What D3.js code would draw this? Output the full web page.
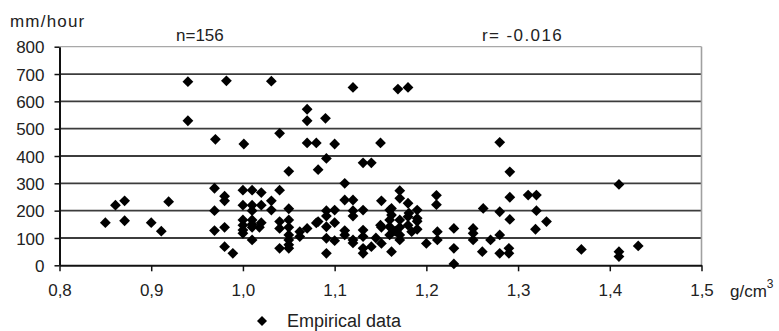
<!DOCTYPE html>
<html>
<head>
<meta charset="utf-8">
<script src="https://cdn.jsdelivr.net/npm/d3@7/dist/d3.min.js"></script>
<style>
  html, body { margin: 0; padding: 0; background: #fff; }
  svg { display: block; }
  text { font-family: "Liberation Sans", Arial, sans-serif; fill: #222; }
</style>
</head>
<body>
<svg id="chart" width="779" height="331"></svg>
<script>
// Density (g/cm3) against infiltration rate (mm/hour), one entry per sample
const density = [
  0.850, 0.861, 0.871, 0.871, 0.900, 0.911, 0.919,
  0.940, 0.940, 0.970, 0.969, 0.980, 0.980, 0.969, 0.969, 0.980, 0.980, 0.989, 0.982,
  1.001, 1.000, 1.010, 1.020, 1.000, 1.010, 1.020, 1.010, 1.000, 1.000, 1.000, 1.000,
  1.010, 1.010, 1.018, 1.020, 1.010, 1.010,
  1.031, 1.040, 1.031, 1.031, 1.040, 1.040, 1.040, 1.040, 1.050, 1.050, 1.050, 1.050,
  1.050, 1.050, 1.050, 1.050,
  1.062, 1.062, 1.070, 1.070, 1.070, 1.070, 1.080, 1.082, 1.082, 1.090, 1.091, 1.091,
  1.091, 1.091, 1.091, 1.091, 1.080,
  1.100, 1.100, 1.100, 1.100, 1.111, 1.111, 1.120, 1.111, 1.111, 1.120, 1.120, 1.120,
  1.120, 1.120,
  1.131, 1.140, 1.131, 1.131, 1.131, 1.131, 1.131, 1.140, 1.150, 1.151, 1.151, 1.151,
  1.145,
  1.160, 1.160, 1.160, 1.160, 1.162, 1.162, 1.169, 1.180, 1.171, 1.171, 1.171, 1.171,
  1.171, 1.180, 1.180, 1.180, 1.190, 1.190, 1.190, 1.184, 1.150, 1.162, 1.171, 1.181,
  1.190, 1.166,
  1.200, 1.211, 1.211, 1.212, 1.212, 1.230, 1.230, 1.230,
  1.251, 1.251, 1.251, 1.261, 1.262, 1.270, 1.280, 1.280, 1.280, 1.280, 1.290, 1.290,
  1.291, 1.291, 1.291,
  1.311, 1.320, 1.320, 1.319, 1.331, 1.369, 1.410, 1.410, 1.410, 1.431
];
const rate = [
  156, 220, 236, 163, 156, 125, 233,
  672, 529, 461, 282, 253, 236, 200, 127, 139, 68, 44, 675,
  444, 275, 275, 266, 220, 220, 220, 200, 166, 147, 129, 117,
  166, 139, 139, 156, 93, 150,
  674, 483, 236, 202, 275, 160, 135, 62, 344, 207, 166, 139,
  111, 93, 62, 75,
  123, 105, 135, 571, 529, 448, 448, 350, 160, 538, 391, 200,
  180, 141, 99, 44, 155,
  444, 202, 156, 90, 300, 239, 239, 127, 111, 651, 200, 180,
  93, 82,
  375, 375, 202, 129, 105, 62, 44, 68, 448, 236, 139, 80,
  100,
  202, 166, 141, 111, 50, 184, 645, 651, 273, 245, 166, 139,
  111, 227, 178, 147, 202, 172, 132, 123, 147, 208, 93, 191,
  161, 125,
  80, 256, 222, 123, 93, 135, 62, 5,
  135, 117, 93, 50, 208, 93, 450, 196, 111, 44, 62, 44,
  342, 249, 168,
  257, 257, 200, 132, 160, 58, 296, 50, 32, 71
];
const xTicks = [0.8, 0.9, 1.0, 1.1, 1.2, 1.3, 1.4, 1.5];
const yTicks = [0, 100, 200, 300, 400, 500, 600, 700, 800];
const sampleCount = "n=156";
const correlation = "r= -0.016";
const seriesName = "Empirical data";

(function draw() {
  const points = density.map((d, i) => ({ x: d, y: rate[i] }));

  const svg = d3.select("#chart");
  const plotLeft = 59.5, plotRight = 701.5, plotTop = 46.7, plotBottom = 265.3;
  const x = d3.scaleLinear().domain([0.8, 1.5]).range([plotLeft, plotRight]);
  const y = d3.scaleLinear().domain([0, 800]).range([plotBottom, plotTop]);

  const diamond = s => `M0,${-s}L${s},0L0,${s}L${-s},0Z`;
  const font = "Liberation Sans, Arial, sans-serif";

  // horizontal gridlines (top edge of the plot area is lighter)
  svg.append("g").selectAll("line")
    .data(yTicks.filter(v => v > 0))
    .join("line")
    .attr("x1", plotLeft).attr("x2", plotRight)
    .attr("y1", d => y(d)).attr("y2", d => y(d))
    .attr("stroke", d => d === 800 ? "#a8a8a8" : "#3c3c3c")
    .attr("stroke-width", d => d === 800 ? 1.2 : 1.8);

  // right border of the plot area
  svg.append("line")
    .attr("x1", plotRight).attr("x2", plotRight)
    .attr("y1", plotTop).attr("y2", plotBottom)
    .attr("stroke", "#a0a0a0").attr("stroke-width", 1.6);

  // y axis
  const yAxis = svg.append("g")
    .attr("transform", `translate(${plotLeft},0)`)
    .call(d3.axisLeft(y).tickValues(yTicks).tickSize(5).tickPadding(10)
      .tickSizeOuter(0).tickFormat(d3.format("d")));
  yAxis.select(".domain").attr("stroke", "#111").attr("stroke-width", 2);
  yAxis.selectAll(".tick line").attr("stroke", "#111").attr("stroke-width", 1.5);
  yAxis.selectAll(".tick text")
    .attr("font-size", 17).attr("font-family", font)
    .attr("fill", "#222").attr("dy", "0.36em");

  // x axis
  const xAxis = svg.append("g")
    .attr("transform", `translate(0,${plotBottom})`)
    .call(d3.axisBottom(x).tickValues(xTicks).tickSize(6).tickPadding(13)
      .tickSizeOuter(0)
      .tickFormat(d => d3.format(".1f")(d).replace(".", ",")));
  xAxis.select(".domain").attr("stroke", "#111").attr("stroke-width", 2);
  xAxis.selectAll(".tick line").attr("stroke", "#111").attr("stroke-width", 1.5);
  xAxis.selectAll(".tick text")
    .attr("font-size", 17).attr("font-family", font)
    .attr("fill", "#222");

  // data points
  svg.append("g").selectAll("path")
    .data(points)
    .join("path")
    .attr("transform", d => `translate(${x(d.x)},${y(d.y)})`)
    .attr("d", diamond(5.4))
    .attr("fill", "#000");

  // axis titles and annotations
  svg.append("text").attr("x", 10).attr("y", 27)
    .attr("font-size", 17).attr("letter-spacing", 1.2).text("mm/hour");
  svg.append("text").attr("x", 176).attr("y", 40.5)
    .attr("font-size", 17).text(sampleCount);
  svg.append("text").attr("x", 482).attr("y", 40.5)
    .attr("font-size", 17).attr("letter-spacing", 1.4)
    .text(correlation);

  const unit = svg.append("text").attr("x", 730).attr("y", 297).attr("font-size", 17);
  unit.append("tspan").text("g/cm");
  unit.append("tspan").attr("font-size", 12).attr("dy", -9).text("3");

  // legend
  svg.append("path")
    .attr("transform", "translate(262,321)")
    .attr("d", diamond(5))
    .attr("fill", "#000");
  svg.append("text").attr("x", 287).attr("y", 326.5)
    .attr("font-size", 18).text(seriesName);
})();
</script>
</body>
</html>
